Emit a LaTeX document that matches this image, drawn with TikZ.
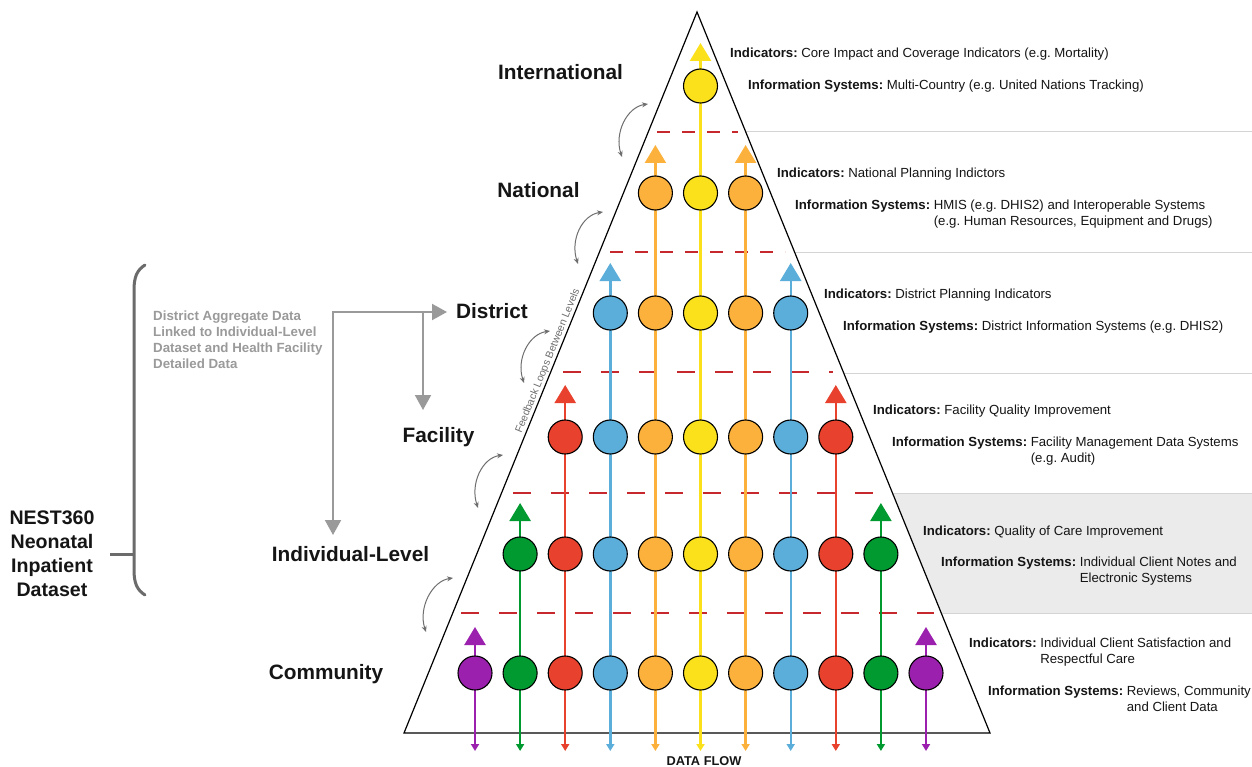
\documentclass[tikz,border=0pt]{standalone}
\usepackage{fontspec}
\setmainfont{Liberation Sans}
\usetikzlibrary{arrows.meta}
\definecolor{cpurple}{HTML}{9B20AE}
\definecolor{cgreen}{HTML}{009A31}
\definecolor{cred}{HTML}{E8412E}
\definecolor{cblue}{HTML}{5BADDA}
\definecolor{corange}{HTML}{FBB13C}
\definecolor{cyellow}{HTML}{FBE11B}
\definecolor{dashred}{HTML}{C7282E}
\definecolor{bandgray}{HTML}{EBEBEB}
\definecolor{rulegray}{HTML}{D4D4D4}
\definecolor{loopgray}{HTML}{6E6E6E}
\definecolor{notegray}{HTML}{9A9A9A}
\definecolor{bracegray}{HTML}{6B6B6B}
\definecolor{inkblack}{HTML}{151515}
\frenchspacing
\begin{document}
\begin{tikzpicture}[x=1pt,y=-1pt,
  dot/.style={circle,draw=black,line width=1.1pt,minimum size=34pt,inner sep=0pt},
  flow/.style={line width=2.4pt,{Triangle[length=18pt,width=21pt]}-{Triangle[length=7pt,width=8pt]}},
  fbloop/.style={draw=loopgray,line width=1pt,{Stealth[length=6pt,width=5pt]}-{Stealth[length=6pt,width=5pt]}},
  notearrow/.style={draw=notegray,line width=2pt,-{Triangle[length=15pt,width=16pt]}},
  reddash/.style={draw=dashred,line width=2pt},
  lvl/.style={font=\fontsize{20.8}{24}\selectfont\bfseries,text=inkblack,anchor=base,inner sep=0pt},
  rtext/.style={font=\fontsize{13.2}{16}\selectfont,text=inkblack,anchor=base west,inner sep=0pt}
]
\useasboundingbox (0,0) rectangle (1252,767);
\fill[white] (0,0) rectangle (1252,767);

% gray band and rules on the right
\fill[bandgray] (892.5,493) -- (1252,493) -- (1252,613) -- (941.2,613) -- cycle;
\foreach \yy/\xx in {132/745.8, 253/794.9, 373/843.7, 493/892.5, 613/941.2}
  \draw[rulegray,line width=1pt] (\xx,\yy) -- (1252,\yy);

% pyramid
\draw[line width=1.2pt,fill=white] (404,733) -- (697,12) -- (990,733) -- cycle;

% red dashed level separators
\draw[reddash,dash pattern=on 13pt off 12pt] (657,132) -- (738,132);
\draw[reddash,dash pattern=on 13pt off 12pt] (610,252) -- (785,252);
\draw[reddash,dash pattern=on 18pt off 20pt] (563,372) -- (833,372);
\draw[reddash,dash pattern=on 18pt off 20pt] (513,493) -- (878,493);
\draw[reddash,dash pattern=on 18pt off 20pt] (461,613) -- (934,613);

% data flow columns
\foreach \k/\col/\r in {0/cpurple/6,1/cgreen/5,2/cred/4,3/cblue/3,4/corange/2,5/cyellow/1,6/corange/2,7/cblue/3,8/cred/4,9/cgreen/5,10/cpurple/6}{
  \pgfmathsetmacro{\xx}{475+45.1*\k}
  \pgfmathsetmacro{\yt}{{86,193,313,437,554,673}[\r-1]}
  \pgfmathsetmacro{\tipoff}{{43,48,50,52,51,46}[\r-1]}
  \coordinate (t\k) at (\xx,\yt-\tipoff);
  \coordinate (b\k) at (\xx,751);
  \draw[flow,color=\col] (t\k) -- (b\k);
  \foreach \row in {\r,...,6}{
    \pgfmathsetmacro{\yr}{{86,193,313,437,554,673}[\row-1]}
    \node[dot,fill=\col] (c\k-\row) at (\xx,\yr) {};
  }
}

% level labels
\node[lvl] (lbl-int) at (560.5,79.4) {International};
\node[lvl] (lbl-nat) at (538.5,197.4) {National};
\node[lvl] (lbl-dis) at (492,318.4) {District};
\node[lvl] (lbl-fac) at (438.5,442.4) {Facility};
\node[lvl] (lbl-ind) at (350.5,561.4) {Individual-Level};
\node[lvl] (lbl-com) at (326,679.4) {Community};

% feedback loops
\foreach \i/\bx/\by/\tx/\ty in {1/622/157/648/104, 2/578/264/603/212, 3/524/383/550/331, 4/478/508/503/455, 5/426/632/453/578}{
  \coordinate (lb\i) at (\bx,\by);
  \coordinate (lt\i) at (\tx,\ty);
  \draw[fbloop] (lb\i) .. controls +(-8,-24) and +(-21,3) .. (lt\i);
}
\node[rotate=67.9,font=\fontsize{10.5}{12}\selectfont,text=loopgray,inner sep=0pt] (fbtext) at (548,361) {Feedback Loops Between Levels};

% right-hand descriptions
\node[rtext] (i1) at (730,57.8) {\textbf{Indicators:} Core Impact and Coverage Indicators (e.g. Mortality)};
\node[rtext] (s1) at (748,89.8) {\textbf{Information Systems:} Multi-Country (e.g. United Nations Tracking)};
\node[rtext] (i2) at (777,177.8) {\textbf{Indicators:} National Planning Indictors};
\node[rtext] (s2) at (795,209.8) {\textbf{Information Systems:} \vtop{\hbox{HMIS (e.g. DHIS2) and Interoperable Systems}\hbox{(e.g. Human Resources, Equipment and Drugs)}}};
\node[rtext] (i3) at (824,298.8) {\textbf{Indicators:} District Planning Indicators};
\node[rtext] (s3) at (843,330.8) {\textbf{Information Systems:} District Information Systems (e.g. DHIS2)};
\node[rtext] (i4) at (873,414.8) {\textbf{Indicators:} Facility Quality Improvement};
\node[rtext] (s4) at (892,446.8) {\textbf{Information Systems:} \vtop{\hbox{Facility Management Data Systems}\hbox{(e.g. Audit)}}};
\node[rtext] (i5) at (923,535.8) {\textbf{Indicators:} Quality of Care Improvement};
\node[rtext] (s5) at (941,566.8) {\textbf{Information Systems:} \vtop{\hbox{Individual Client Notes and}\hbox{Electronic Systems}}};
\node[rtext] (i6) at (969,647.8) {\textbf{Indicators:} \vtop{\hbox{Individual Client Satisfaction and}\hbox{Respectful Care}}};
\node[rtext] (s6) at (988,695.8) {\textbf{Information Systems:} \vtop{\hbox{Reviews, Community}\hbox{and Client Data}}};

% data flow caption
\node[font=\fontsize{12.8}{14}\selectfont\bfseries,text=inkblack,anchor=base,inner sep=0pt] (dflow) at (704,765.4) {DATA FLOW};

% NEST360 dataset brace and notes
\node[font=\fontsize{19.6}{24}\selectfont\bfseries,text=inkblack,align=center,inner sep=0pt] (nest) at (52,554) {NEST360\\Neonatal\\Inpatient\\Dataset};
\draw[bracegray,line width=3pt,line cap=round] (145,265) .. controls (137,270) and (134,277) .. (134,290) -- (134,570) .. controls (134,583) and (137,590) .. (145,595);
\coordinate (brace-mid) at (134,554);
\coordinate (nest-tick) at (110,554);
\draw[bracegray,line width=3pt] (nest-tick) -- (brace-mid);
\node[font=\fontsize{13.3}{16}\selectfont\bfseries,text=notegray,align=left,anchor=west,inner sep=0pt] (note) at (153,340) {District Aggregate Data\\Linked to Individual-Level\\Dataset and Health Facility\\Detailed Data};

\coordinate (j1) at (333,312);
\coordinate (j2) at (423,312);
\coordinate (a-dis) at (447,312);
\coordinate (a-ind) at (333,535);
\coordinate (a-fac) at (423,410);
\draw[notearrow,{Triangle[length=15pt,width=16pt]}-{Triangle[length=15pt,width=16pt]}] (a-ind) |- (a-dis);
\draw[notearrow] (j2) -- (a-fac);
\end{tikzpicture}
\end{document}
